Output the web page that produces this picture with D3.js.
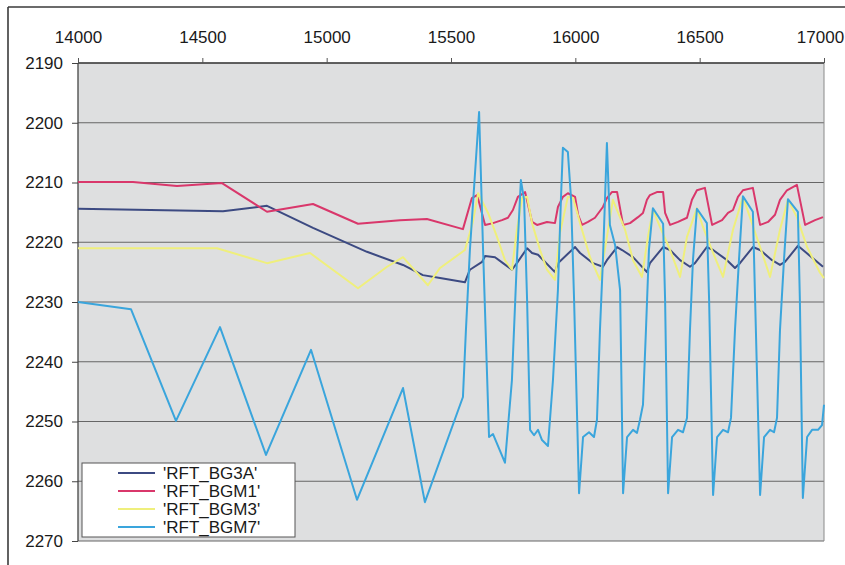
<!DOCTYPE html>
<html>
<head>
<meta charset="utf-8">
<script src="https://cdn.jsdelivr.net/npm/d3@7"></script>
<style>
  html, body { margin: 0; padding: 0; background: #ffffff; }
  svg { display: block; }
  text { font-family: "Liberation Sans", Arial, sans-serif; fill: #1a1a1a; }
</style>
</head>
<body>
<svg id="chart" width="845" height="565"></svg>
<script>
// ---------- data ----------
const xTicks = [14000, 14500, 15000, 15500, 16000, 16500, 17000];
const yTicks = [2190, 2200, 2210, 2220, 2230, 2240, 2250, 2260, 2270];
const seriesNames = ["'RFT_BG3A'", "'RFT_BGM1'", "'RFT_BGM3'", "'RFT_BGM7'"];

const bg3a = [
  [14000,2214.4],[14583,2214.8],[14760,2213.9],[14945,2217.6],[15162,2221.6],[15307,2223.8],
  [15387,2225.5],[15456,2226.0],[15556,2226.7],[15576,2224.6],[15625,2223.3],[15637,2222.3],
  [15677,2222.5],[15709,2223.5],[15745,2224.6],[15765,2223.5],[15806,2221.0],[15826,2221.8],
  [15850,2222.1],[15918,2225.0],[15930,2223.5],[15999,2220.8],[16019,2221.8],[16071,2223.5],
  [16111,2224.1],[16127,2223.0],[16168,2220.8],[16188,2221.3],[16232,2222.5],[16288,2225.0],
  [16300,2223.5],[16353,2220.8],[16381,2221.3],[16421,2223.0],[16461,2224.1],[16481,2223.5],
  [16529,2220.8],[16554,2221.3],[16610,2223.0],[16642,2224.3],[16662,2223.5],[16714,2220.8],
  [16743,2221.3],[16791,2223.0],[16823,2223.8],[16843,2223.3],[16895,2220.6],[16924,2221.6],
  [16996,2224.1]
];

const bgm1 = [
  [14000,2209.9],[14221,2209.9],[14398,2210.6],[14579,2210.1],[14760,2214.9],[14945,2213.6],
  [15126,2216.9],[15295,2216.3],[15403,2216.1],[15548,2217.8],[15584,2212.6],[15605,2212.1],
  [15637,2217.1],[15669,2216.8],[15705,2216.3],[15729,2215.9],[15749,2214.6],[15769,2212.4],
  [15798,2211.6],[15826,2216.6],[15846,2217.1],[15886,2216.6],[15918,2216.8],[15930,2214.1],
  [15950,2212.4],[15970,2211.8],[15999,2212.4],[16011,2215.4],[16027,2217.1],[16051,2216.6],
  [16079,2215.9],[16111,2214.1],[16127,2212.6],[16147,2211.6],[16168,2211.6],[16192,2217.1],
  [16220,2216.8],[16252,2215.8],[16272,2215.1],[16288,2212.9],[16300,2212.1],[16328,2211.6],
  [16353,2211.6],[16361,2215.1],[16381,2217.1],[16413,2216.6],[16449,2215.9],[16469,2212.9],
  [16489,2211.3],[16521,2210.9],[16550,2217.1],[16590,2216.3],[16614,2215.1],[16634,2214.6],
  [16654,2212.4],[16674,2211.3],[16714,2210.9],[16743,2217.1],[16775,2216.6],[16803,2215.4],
  [16823,2212.9],[16851,2211.3],[16891,2210.4],[16924,2217.1],[16964,2216.3],[16996,2215.8]
];

const bgm3 = [
  [14000,2221.0],[14559,2221.0],[14760,2223.5],[14933,2221.8],[15126,2227.7],[15243,2224.1],
  [15307,2222.5],[15407,2227.2],[15456,2224.3],[15556,2221.3],[15588,2216.6],[15609,2211.8],
  [15649,2215.1],[15685,2219.1],[15717,2223.0],[15745,2224.6],[15765,2217.9],[15786,2212.6],
  [15806,2212.4],[15826,2216.8],[15858,2221.3],[15886,2224.6],[15918,2226.3],[15938,2218.5],
  [15970,2212.4],[15991,2212.6],[16019,2216.8],[16059,2222.5],[16099,2226.3],[16127,2219.1],
  [16151,2212.9],[16200,2217.9],[16232,2223.0],[16268,2225.8],[16292,2219.1],[16312,2214.6],
  [16340,2217.4],[16381,2221.3],[16421,2225.8],[16449,2219.1],[16489,2214.3],[16513,2217.4],
  [16554,2221.8],[16594,2225.8],[16634,2217.9],[16674,2212.4],[16702,2215.8],[16743,2220.8],
  [16783,2225.8],[16823,2217.9],[16855,2212.9],[16891,2215.8],[16932,2220.8],[16984,2225.1],
  [17000,2226.0]
];

const bgm7 = [
  [14000,2230.0],[14213,2231.2],[14394,2249.9],[14571,2234.2],[14756,2255.6],[14937,2238.0],
  [15122,2263.1],[15307,2244.4],[15395,2263.5],[15548,2245.9],[15560,2234.7],[15576,2221.3],
  [15613,2198.2],[15629,2221.3],[15653,2252.6],[15669,2252.1],[15717,2256.9],[15745,2243.1],
  [15765,2223.0],[15781,2209.6],[15794,2212.9],[15806,2229.7],[15818,2251.4],[15834,2252.3],
  [15850,2251.4],[15866,2253.1],[15890,2254.1],[15910,2243.1],[15930,2228.0],[15942,2212.9],
  [15950,2204.2],[15970,2204.9],[15983,2212.9],[15995,2229.7],[16015,2262.0],[16031,2252.6],
  [16055,2251.8],[16075,2252.6],[16087,2249.7],[16099,2234.7],[16111,2223.0],[16127,2203.4],
  [16139,2217.1],[16160,2220.5],[16180,2228.0],[16192,2262.0],[16208,2252.6],[16232,2251.4],
  [16248,2251.9],[16260,2249.7],[16272,2247.2],[16284,2234.7],[16296,2221.3],[16312,2214.3],
  [16353,2216.9],[16361,2229.7],[16373,2262.0],[16389,2252.6],[16413,2251.4],[16433,2251.8],
  [16449,2249.4],[16461,2234.7],[16473,2223.0],[16489,2214.4],[16529,2216.8],[16538,2229.7],
  [16554,2262.3],[16570,2252.6],[16594,2251.4],[16614,2251.8],[16626,2249.4],[16642,2234.7],
  [16658,2223.0],[16674,2212.3],[16714,2214.9],[16723,2229.7],[16743,2262.3],[16759,2252.6],
  [16783,2251.4],[16799,2251.8],[16811,2249.4],[16823,2234.7],[16839,2223.0],[16855,2212.8],
  [16895,2214.9],[16903,2229.7],[16915,2262.8],[16932,2252.6],[16952,2251.4],[16976,2251.4],
  [16992,2250.6],[17000,2247.2]
];

const seriesData = [bg3a, bgm1, bgm3, bgm7];
const seriesColors = ["#3c4a82", "#d9376b", "#efef7c", "#3aa5dc"];

// ---------- layout ----------
const svg = d3.select("#chart");
const L = 78, R = 824, T = 63, B = 541;

const x = d3.scaleLinear().domain([14000, 17000]).range([L, R]);
const y = d3.scaleLinear().domain([2190, 2270]).range([T, B]);

// outer frame
svg.append("line").attr("x1", 8).attr("x2", 8).attr("y1", 7).attr("y2", 565)
  .attr("stroke", "#3a3a3a").attr("stroke-width", 1.6);
svg.append("line").attr("x1", 8).attr("x2", 845).attr("y1", 7).attr("y2", 7)
  .attr("stroke", "#3a3a3a").attr("stroke-width", 1.6);

// plot background
svg.append("rect").attr("x", L).attr("y", T).attr("width", R - L).attr("height", B - T)
  .attr("fill", "#dedfe0");

// gridlines
svg.append("g").selectAll("line").data(yTicks).join("line")
  .attr("x1", L).attr("x2", R)
  .attr("y1", d => y(d)).attr("y2", d => y(d))
  .attr("stroke", "#666").attr("stroke-width", 1.2);

// plot border (right side lighter)
svg.append("line").attr("x1", R).attr("x2", R).attr("y1", T).attr("y2", B)
  .attr("stroke", "#8a8a8a").attr("stroke-width", 1);
svg.append("line").attr("x1", L).attr("x2", L).attr("y1", T).attr("y2", B)
  .attr("stroke", "#444").attr("stroke-width", 1.3);
svg.append("line").attr("x1", L).attr("x2", R).attr("y1", T).attr("y2", T)
  .attr("stroke", "#444").attr("stroke-width", 1.3);

// axes
const xAxis = svg.append("g").attr("transform", `translate(0,${T})`)
  .call(d3.axisTop(x).tickValues(xTicks).tickSize(5).tickPadding(15).tickFormat(d3.format("d")));
xAxis.select(".domain").remove();
xAxis.selectAll("line").attr("stroke", "#555");
xAxis.selectAll("text").attr("font-size", "17px").attr("fill", "#1a1a1a")
  .style("font-family", "'Liberation Sans', Arial, sans-serif")
  .attr("dx", d => d === 17000 ? -4 : 0);

const yAxis = svg.append("g").attr("transform", `translate(${L},0)`)
  .call(d3.axisLeft(y).tickValues(yTicks).tickSize(6).tickPadding(9).tickFormat(d3.format("d")));
yAxis.select(".domain").remove();
yAxis.selectAll("line").attr("stroke", "#444");
yAxis.selectAll("text").attr("font-size", "17px").attr("fill", "#1a1a1a")
  .style("font-family", "'Liberation Sans', Arial, sans-serif");

// series lines
const line = d3.line().x(d => x(d[0])).y(d => y(d[1]));
const plot = svg.append("g");
seriesData.forEach((s, i) => {
  plot.append("path").datum(s)
    .attr("d", line)
    .attr("fill", "none")
    .attr("stroke", seriesColors[i])
    .attr("stroke-width", 2)
    .attr("stroke-linejoin", "round");
});

// legend
const lg = svg.append("g");
lg.append("rect").attr("x", 82).attr("y", 463).attr("width", 213).attr("height", 74)
  .attr("fill", "#ffffff").attr("stroke", "#555").attr("stroke-width", 1);
const rowY = d3.scalePoint().domain(seriesNames).range([473, 527]);
seriesNames.forEach((n, i) => {
  lg.append("line").attr("x1", 118).attr("x2", 155)
    .attr("y1", rowY(n)).attr("y2", rowY(n))
    .attr("stroke", seriesColors[i]).attr("stroke-width", 2);
  lg.append("text").attr("x", 163).attr("y", rowY(n)).attr("dy", "0.36em")
    .attr("font-size", "17px").text(n);
});
</script>
</body>
</html>
